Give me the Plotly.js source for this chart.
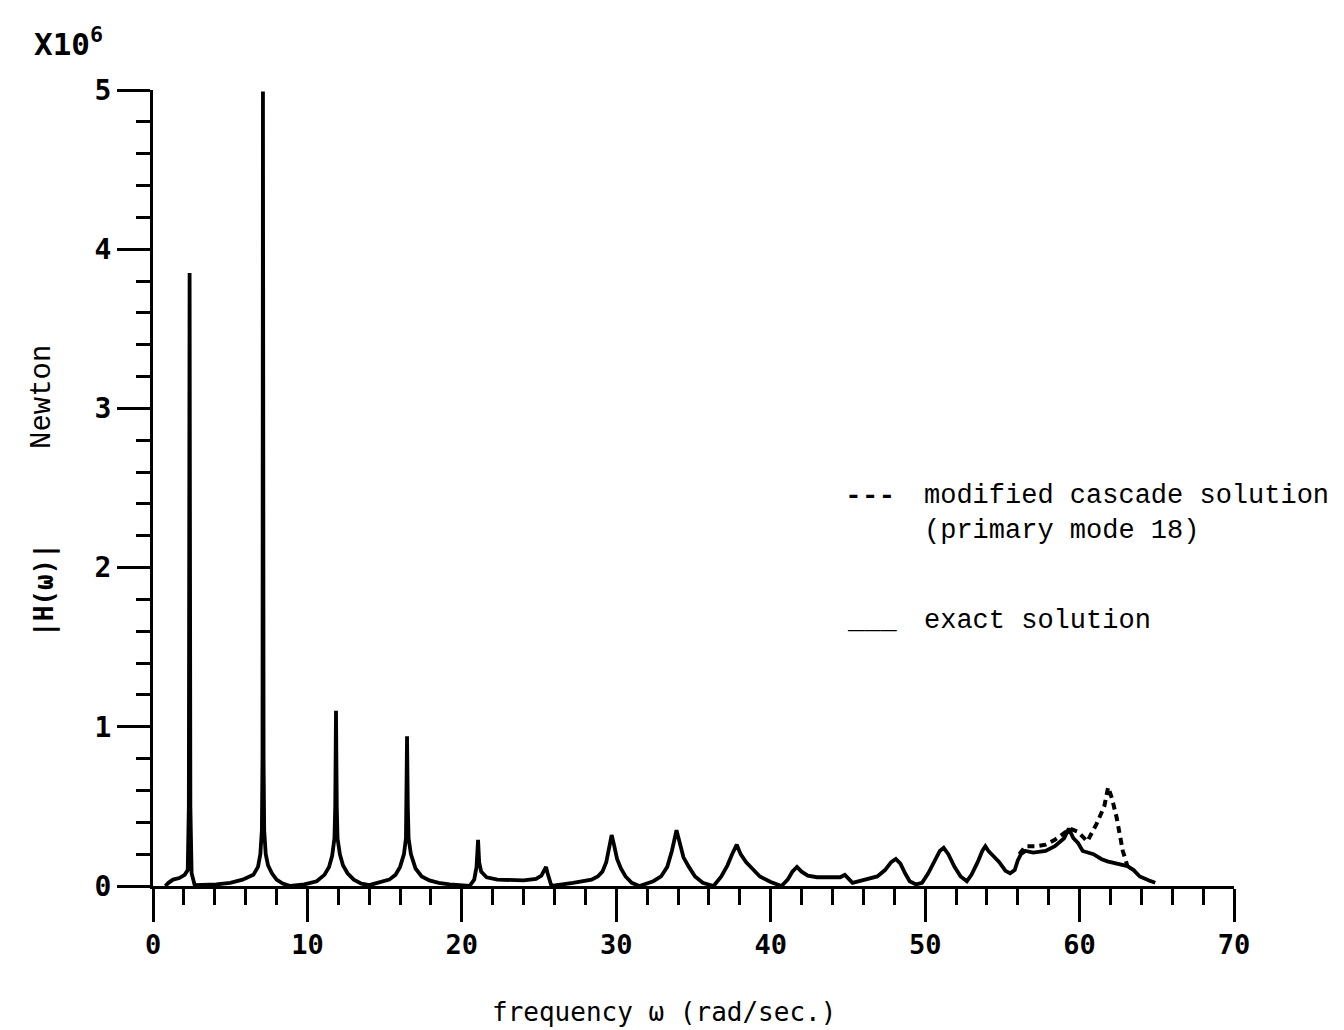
<!DOCTYPE html>
<html>
<head>
<meta charset="utf-8">
<script src="https://cdn.plot.ly/plotly-3.0.1.min.js"></script>
<style>html,body{margin:0;padding:0;background:#fff;}#chart{width:1344px;height:1030px;}</style>
</head>
<body>
<div id="chart"></div>
<script>
// exact solution |H(w)| (x10^6 Newton) vs frequency (rad/sec)
var exactFreq = [0.8,1.0,1.3,1.7,2.05,2.25,2.32,2.37,2.42,2.5,2.7,3.5,4.1,5.0,5.8,6.5,6.8,6.95,7.05,7.09,7.12,7.16,7.2,7.3,7.45,7.7,8.0,8.4,8.9,9.8,10.6,11.1,11.4,11.6,11.75,11.8,11.85,11.9,11.95,12.1,12.3,12.6,13.0,13.5,14.0,15.3,15.7,16.0,16.25,16.38,16.42,16.45,16.5,16.55,16.7,17.0,17.4,17.9,18.5,19.2,20.5,20.8,20.95,21.05,21.12,21.25,21.6,22.3,24.0,24.8,25.15,25.35,25.45,25.55,25.7,25.8,27.2,28.4,28.8,29.1,29.35,29.55,29.7,29.85,30.05,30.3,30.6,31.0,31.5,32.4,32.9,33.3,33.6,33.9,34.1,34.35,34.7,35.1,35.6,36.3,36.8,37.2,37.5,37.8,38.05,38.4,38.8,39.3,40.0,40.7,41.1,41.4,41.7,42.0,42.4,43.0,44.5,44.8,45.3,46.2,46.9,47.4,47.8,48.1,48.4,48.7,49.0,49.4,49.8,50.2,50.6,50.95,51.2,51.5,51.9,52.3,52.7,53.0,53.4,53.7,53.9,54.1,54.4,54.8,55.2,55.5,55.8,56.0,56.2,56.5,57.0,57.8,58.4,59.0,59.3,59.6,59.9,60.2,60.9,61.4,61.8,62.4,63.1,63.5,63.9,64.5,64.9];
var exactAmp = [0,0.02,0.04,0.05,0.07,0.10,0.5,3.85,0.5,0.08,0.005,0.005,0.01,0.02,0.04,0.07,0.12,0.2,0.35,0.8,4.99,0.8,0.35,0.2,0.13,0.08,0.04,0.015,0.0,0.01,0.03,0.07,0.12,0.19,0.3,0.5,1.10,0.5,0.3,0.2,0.13,0.08,0.04,0.015,0.005,0.04,0.07,0.12,0.2,0.3,0.5,0.94,0.5,0.3,0.2,0.11,0.06,0.035,0.02,0.01,0.0,0.04,0.12,0.29,0.15,0.09,0.055,0.04,0.035,0.045,0.065,0.1,0.12,0.08,0.03,0.0,0.02,0.04,0.06,0.09,0.15,0.25,0.32,0.26,0.17,0.11,0.06,0.02,0.0,0.03,0.06,0.12,0.22,0.35,0.27,0.18,0.12,0.06,0.02,0.0,0.06,0.13,0.2,0.26,0.2,0.15,0.11,0.06,0.025,0.0,0.04,0.09,0.12,0.09,0.065,0.055,0.055,0.07,0.02,0.04,0.06,0.1,0.15,0.17,0.14,0.08,0.03,0.01,0.02,0.08,0.16,0.22,0.24,0.2,0.12,0.06,0.03,0.07,0.15,0.22,0.25,0.22,0.19,0.15,0.095,0.08,0.1,0.16,0.2,0.22,0.21,0.22,0.25,0.30,0.36,0.3,0.27,0.22,0.20,0.17,0.155,0.14,0.125,0.1,0.06,0.035,0.02];
// modified cascade solution (where it departs from the exact one)
var modFreq = [56.1,56.5,57.2,57.8,58.4,59.0,59.4,59.9,60.5,61.1,61.6,61.85,62.1,62.4,62.8,63.1];
var modAmp  = [0.2,0.25,0.25,0.26,0.29,0.33,0.36,0.34,0.28,0.39,0.5,0.62,0.55,0.43,0.22,0.125];
var xTickVals = [0,10,20,30,40,50,60,70];
var xTickText = ['0','10','20','30','40','50','60','70'];
var yTickVals = [0,1,2,3,4,5];
var yTickText = ['0','1','2','3','4','5'];

var mono = 'DejaVu Sans Mono, monospace';
var serifMono = 'Liberation Mono, Courier New, monospace';

var traces = [
  {x: exactFreq, y: exactAmp, type:'scatter', mode:'lines', line:{color:'#000', width:3.8}, name:'exact solution', hoverinfo:'x+y'},
  {x: modFreq, y: modAmp, type:'scatter', mode:'lines', line:{color:'#000', width:4, dash:'7px,5px'}, name:'modified cascade solution', hoverinfo:'x+y'}
];

var W = 1081, H = 796, L = 153, T = 90;
function px(p){ return (p - L)/W; }
function py(p){ return (T + H - p)/H; }

var layout = {
  width:1344, height:1030,
  margin:{l:153, r:110, t:90, b:144},
  paper_bgcolor:'#fff', plot_bgcolor:'#fff',
  showlegend:false,
  xaxis:{
    range:[0,70], tickvals:xTickVals, ticktext:xTickText,
    ticks:'outside', ticklen:33, tickwidth:3, tickcolor:'#000',
    minor:{dtick:2, tick0:0, ticks:'outside', ticklen:16, tickwidth:3, tickcolor:'#000', showgrid:false},
    showline:true, linewidth:3, linecolor:'#000', showgrid:false, zeroline:false,
    tickfont:{family:mono, size:27, weight:'bold', color:'#000'}
  },
  yaxis:{
    range:[0,5], tickvals:yTickVals, ticktext:yTickText,
    ticks:'outside', ticklen:33, tickwidth:3, tickcolor:'#000',
    minor:{dtick:0.2, tick0:0, ticks:'outside', ticklen:14, tickwidth:3, tickcolor:'#000', showgrid:false},
    showline:true, linewidth:3, linecolor:'#000', showgrid:false, zeroline:false,
    tickfont:{family:mono, size:28, weight:'bold', color:'#000'}
  },
  annotations:[
    {xref:'paper', yref:'paper', x:px(664), y:py(1012), xanchor:'center', yanchor:'middle', showarrow:false,
     text:'frequency \u03c9 (rad/sec.)', font:{family:mono, size:26, color:'#000'}},
    {xref:'paper', yref:'paper', x:px(32), y:py(42), xanchor:'left', yanchor:'middle', showarrow:false,
     text:'X10<sup>6</sup>', font:{family:mono, size:31, weight:'bold', color:'#000'}},
    {xref:'paper', yref:'paper', x:px(42), y:py(397), xanchor:'center', yanchor:'middle', showarrow:false, textangle:-90,
     text:'Newton', font:{family:serifMono, size:29, color:'#000'}},
    {xref:'paper', yref:'paper', x:px(44), y:py(590), xanchor:'center', yanchor:'middle', showarrow:false, textangle:-90,
     text:'|H(\u03c9)|', font:{family:mono, size:26, weight:'bold', color:'#000'}},
    {xref:'paper', yref:'paper', x:px(843), y:py(496), xanchor:'left', yanchor:'middle', showarrow:false,
     text:'---', font:{family:serifMono, size:28, weight:'bold', color:'#000'}},
    {xref:'paper', yref:'paper', x:px(922), y:py(496), xanchor:'left', yanchor:'middle', showarrow:false,
     text:'modified cascade solution', font:{family:serifMono, size:27, color:'#000'}},
    {xref:'paper', yref:'paper', x:px(922), y:py(531), xanchor:'left', yanchor:'middle', showarrow:false,
     text:'(primary mode 18)', font:{family:serifMono, size:27, color:'#000'}},
    {xref:'paper', yref:'paper', x:px(845), y:py(621), xanchor:'left', yanchor:'middle', showarrow:false,
     text:'___', font:{family:serifMono, size:27, color:'#000'}},
    {xref:'paper', yref:'paper', x:px(922), y:py(621), xanchor:'left', yanchor:'middle', showarrow:false,
     text:'exact solution', font:{family:serifMono, size:27, color:'#000'}}
  ]
};

Plotly.newPlot('chart', traces, layout, {displayModeBar:false, staticPlot:true});
</script>
</body>
</html>
